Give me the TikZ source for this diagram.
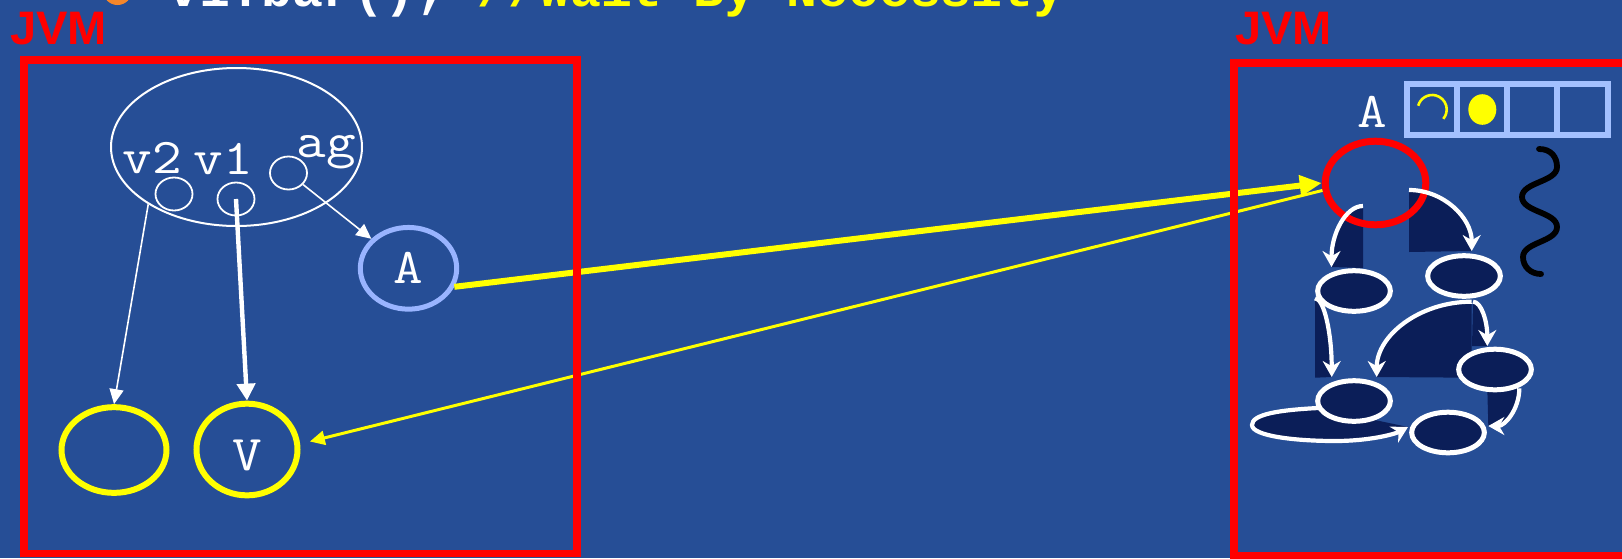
\documentclass[tikz,border=0pt]{standalone}
\usepackage{fontspec}
\usepackage{graphicx}
\usepackage{xcolor}
\usepackage{tikz}
\usetikzlibrary{arrows.meta,shapes.geometric}
\newfontfamily\jvmfont{Liberation Sans}
\newfontfamily\codefont{Liberation Mono}
\definecolor{slide}{HTML}{264E96}
\definecolor{navyfill}{HTML}{0B1E58}
\definecolor{jvmred}{HTML}{FF0000}
\definecolor{callyellow}{HTML}{FFFF00}
\definecolor{refblue}{HTML}{99B4FF}
\definecolor{slotblue}{HTML}{A3C0FF}
\definecolor{bulletorange}{HTML}{F5862A}
\tikzset{
  jvmbox/.style={draw=jvmred,line width=3.75pt},
  jvmname/.style={text=jvmred,font=\jvmfont\bfseries\fontsize{23.5}{25}\selectfont,anchor=base west,inner sep=0pt},
  calltext/.style={text=white,font=\codefont\bfseries\fontsize{25.75}{27}\selectfont,anchor=base west,inner sep=0pt},
  lbl/.style={text=white,font=\ttfamily\fontsize{25}{26}\selectfont,inner sep=0pt},
  objring/.style={ellipse,draw=white,line width=1pt,inner sep=0pt},
  varslot/.style={ellipse,draw=white,line width=0.9pt,inner sep=0pt,minimum width=18.5pt,minimum height=16.5pt},
  actobj/.style={ellipse,draw=refblue,line width=2.5pt,inner sep=0pt,minimum width=48.2pt,minimum height=40.85pt},
  futobj/.style={ellipse,draw=callyellow,line width=3pt,inner sep=0pt},
  remobj/.style={ellipse,draw=jvmred,line width=3.5pt,inner sep=0pt,minimum width=50.3pt,minimum height=41.8pt},
  gnode/.style={ellipse,draw=white,fill=navyfill,line width=2.5pt,inner sep=0pt,minimum width=36.35pt,minimum height=20.3pt},
  slotcell/.style={rectangle,draw=slotblue,line width=3pt,inner sep=0pt,minimum width=25.05pt,minimum height=25.8pt},
  ptr/.style={white,line width=0.8pt,-{Triangle[length=7.5pt,width=7pt]}},
  fatptr/.style={white,line width=2.2pt,-{Triangle[length=8.5pt,width=9pt]}},
  callline/.style={callyellow,line width=3pt,-{Triangle[length=11pt,width=10pt]}},
  backline/.style={callyellow,line width=1.5pt,-{Triangle[length=7.5pt,width=7pt]},shorten >=5pt},
  flowarrow/.style={white,line width=2.1pt,-{Stealth[length=8pt,width=9pt]}}
}
\newcommand{\wide}[1]{\scalebox{1.15}[1]{#1}}
\newcommand{\flowpie}[5]{\fill[navyfill] (#1) .. controls (#2) and (#3) .. (#4) -- (#5) -- cycle;}

\begin{document}
\begin{tikzpicture}[x=0.5pt,y=-0.5pt]
\useasboundingbox (0,0) rectangle (1622,558);
\fill[slide] (0,0) rectangle (1622,558);
\fill[bulletorange] (117.5,-9.5) circle (14.5);
\node[calltext] (call) at (168,6) {v1.bar(); \textcolor{callyellow}{//Wait-By-Necessity}};

\node[jvmname] (jvmleft) at (10,44) {JVM};
\node[objring,minimum width=125.5pt,minimum height=79pt] (objv) at (236.5,147) {};
\node[varslot] (slot2) at (174,194) {};
\node[varslot] (slot1) at (236,199) {};
\node[varslot] (slotag) at (288.5,173) {};
\node[lbl,anchor=base] (v2) at (152,173) {\wide{v2}};
\node[lbl,anchor=base] (v1) at (223,174) {\wide{v1}};
\node[lbl,anchor=base] (ag) at (326,157) {\wide{ag}};
\node[actobj,lbl] (objA) at (408.5,268.3) {\wide{A}};
\node[futobj,minimum width=52.5pt,minimum height=42.85pt] (fut2) at (114,450) {};
\node[futobj,minimum width=50.5pt,minimum height=45.85pt] (futV) at (247,449.5) {};
\node[lbl,anchor=base] (vname) at (247.6,470) {\wide{V}};
\draw[ptr] (objv.213) -- (fut2.north);
\draw[fatptr] (slot1.center) -- (futV.north);
\draw[ptr] (slotag) -- (objA);

\node[jvmname] (jvmright) at (1235,44) {JVM};
\node[lbl,anchor=base] (aname) at (1372.5,127.3) {\wide{A}};
\foreach \i in {0,...,3}
  \node[slotcell] (req\i) at ({1432.2+50.1*\i},109.5) {};
\draw[callyellow,line width=1.3pt] ([shift={(-165:14.5)}]req0.center) arc[start angle=-165,end angle=40,radius=14.5];
\fill[callyellow] (req1.center) ellipse [x radius=14,y radius=15.3];
\draw[black,line width=2.9pt,line cap=round] (1539,149) .. controls (1551,149) and (1557,157) .. (1557,167)
  .. controls (1557,182) and (1522,182) .. (1522,197) .. controls (1522,212) and (1557,212) .. (1557,227)
  .. controls (1557,242) and (1523,242) .. (1523,257) .. controls (1523,267) and (1531,274) .. (1541,274);

\coordinate (f1s) at (1363,206);   \coordinate (f1e) at (1331.5,267);
\coordinate (f2s) at (1409,190);   \coordinate (f2e) at (1471.7,251);
\coordinate (f3s) at (1315,298.3); \coordinate (f3e) at (1331.7,377);
\coordinate (f4s) at (1471.7,301.7); \coordinate (f4e) at (1376.7,377);
\coordinate (f5s) at (1473,301.7); \coordinate (f5e) at (1487.3,346);
\coordinate (f6s) at (1519.3,388.3); \coordinate (f6e) at (1488.3,426);
\coordinate (f7s) at (1318,408);   \coordinate (f7e) at (1408,427);
\flowpie{f1s}{1345.6,206}{1331.5,233.8}{f1e}{1363,268}
\flowpie{f2s}{1443.6,190}{1471.7,217.8}{f2e}{1409,252}
\flowpie{f3s}{1324.2,298.3}{1331.7,333.9}{f3e}{1315,377.7}
\flowpie{f4s}{1419.3,301.7}{1376.7,335.7}{f4e}{1471.7,377.7}
\flowpie{f5s}{1481.4,301.7}{1487.3,321.5}{f5e}{1472,346}
\flowpie{f6s}{1519.3,409.1}{1505,426}{f6e}{1487.3,388.3}
\fill[navyfill] (f7s) .. controls (1280,410) and (1252,414) .. (1252,425) .. controls (1252,436) and (1295,441) .. (1335,441) .. controls (1370,441) and (1395,434) .. (f7e) -- cycle;

\node[remobj] (aobj) at (1375.5,183) {};
\node[gnode] (n1) at (1354,291) {};
\node[gnode] (n2) at (1464,276) {};
\node[gnode] (n3) at (1495,369.5) {};
\node[gnode] (n4) at (1354,401) {};
\node[gnode] (n5) at (1448,432.5) {};

\draw[flowarrow] (f1s) .. controls (1345.6,206) and (1331.5,233.8) .. (f1e);
\draw[flowarrow] (f2s) .. controls (1443.6,190) and (1471.7,217.8) .. (f2e);
\draw[flowarrow] (f3s) .. controls (1324.2,298.3) and (1331.7,333.9) .. (f3e);
\draw[flowarrow] (f4s) .. controls (1419.3,301.7) and (1376.7,335.7) .. (f4e);
\draw[flowarrow] (f5s) .. controls (1481.4,301.7) and (1487.3,321.5) .. (f5e);
\draw[flowarrow] (f6s) .. controls (1519.3,409.1) and (1505,426) .. (f6e);
\draw[flowarrow] (f7s) .. controls (1280,410) and (1252,414) .. (1252,425) .. controls (1252,436) and (1295,441) .. (1335,441) .. controls (1370,441) and (1395,434) .. (f7e);

\draw[callline] (objA.338) -- (aobj.west);
\draw[backline] (aobj.188) -- (futV.6);

\draw[jvmbox] (24,60) rectangle (577,553.3);
\draw[jvmbox] (1234,63) rectangle (1660,556);
\end{tikzpicture}
\end{document}
